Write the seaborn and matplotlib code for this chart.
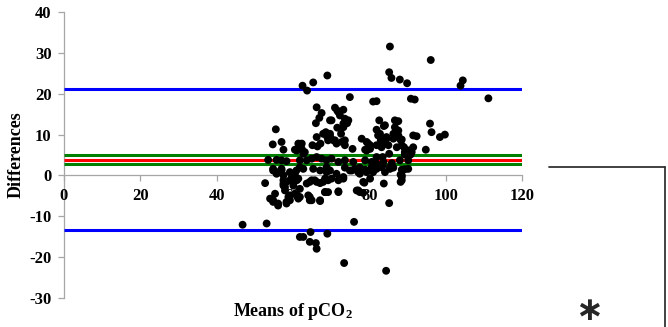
import matplotlib
matplotlib.use("Agg")
import matplotlib.pyplot as plt
from matplotlib.lines import Line2D
import seaborn as sns
import pandas as pd

# ---- data ----
x_means = [85.4, 96.1, 85.2, 85.8, 88.0, 89.9, 104.5, 103.9, 69.0, 65.3, 62.5, 63.7, 74.9, 81.0, 81.9,
           90.9, 91.9, 111.2, 66.2, 71.0, 71.6, 73.2, 67.5, 66.9, 66.0, 69.7, 72.3, 73.6, 74.2, 73.2,
           71.6, 72.6, 55.5, 82.6, 83.8, 81.9, 82.8, 84.5, 83.5, 86.7, 87.6, 87.6, 84.1, 66.2, 68.6,
           69.7, 70.6, 71.4, 78.0, 79.3, 80.2, 78.9, 54.7, 57.0, 57.5, 61.4, 62.3, 60.5, 63.1, 65.1,
           66.4, 67.2, 75.6, 73.6, 81.9, 83.2, 85.0, 87.2, 86.3, 87.6, 95.9, 96.3, 98.5, 99.8, 92.4,
           94.8, 88.2, 89.1, 90.6, 89.3, 90.8, 85.2, 83.5, 83.5, 85.4, 88.5, 88.2, 88.5, 88.2, 83.8,
           85.2, 84.4, 46.8, 53.1, 52.7, 53.5, 54.8, 55.7, 55.3, 54.0, 54.8, 56.1, 58.3, 58.8, 57.5,
           57.9, 59.2, 59.7, 60.5, 60.9, 60.9, 61.8, 61.4, 64.4, 64.0, 67.1, 64.4, 65.7, 67.1, 68.4,
           69.2, 71.9, 61.8, 62.7, 64.6, 64.4, 66.0, 66.2, 69.0, 73.4, 76.0, 77.1, 78.4, 78.4, 80.2,
           72.3, 73.2, 71.4, 69.7, 68.8, 74.9, 76.2, 77.5, 78.9, 80.6, 81.9,
           62.3, 61.0, 62.7, 67.9, 69.0, 55.7, 57.0, 58.3, 61.8, 63.6, 64.9, 66.2, 67.5, 68.8, 54.8, 57.0,
           71.9, 74.5, 73.2, 70.1, 69.7, 71.0, 72.8, 73.6, 68.4, 69.2, 82.3, 83.0, 84.5, 84.1, 86.7,
           86.3, 86.7, 88.5, 91.5, 79.7, 80.2, 79.3, 88.5, 89.3, 90.2, 91.1, 91.5, 70.1, 71.9, 73.6,
           75.8, 78.9, 80.6, 81.9, 83.7, 85.9, 88.0, 90.2, 73.6, 77.5, 81.5, 83.2, 86.3, 90.2,
           55.7, 57.0, 57.5, 59.2, 62.7, 65.3, 67.1, 68.8, 57.5, 58.3, 59.7, 60.1, 61.0, 61.8, 61.4,
           63.6, 64.9, 66.2, 67.9, 69.2, 57.5, 57.9, 59.2, 60.5, 61.8, 64.4, 64.9, 67.1, 54.8, 56.1,
           58.3, 59.2, 61.4,
           68.4, 70.1, 71.9, 73.2, 75.4, 77.1, 78.0, 79.3, 81.0, 81.9, 84.1, 85.4, 88.5, 88.5, 68.4,
           71.9, 76.7, 77.5, 78.7, 89.3]
y_diffs = [31.6, 28.3, 25.3, 23.9, 23.5, 22.6, 23.3, 22.0, 24.5, 22.8, 22.0, 20.8, 19.2, 18.1, 18.2,
           18.8, 18.6, 18.9, 16.7, 16.6, 15.9, 16.1, 15.3, 14.1, 12.8, 13.5, 14.7, 13.9, 12.8, 11.8,
           11.7, 10.2, 11.3, 13.5, 12.1, 11.2, 10.2, 9.4, 8.6, 11.8, 11.0, 13.3, 12.3, 9.4, 10.6,
           9.6, 8.6, 7.8, 9.0, 8.2, 7.4, 6.3, 7.6, 8.2, 6.3, 7.8, 6.5, 6.3, 5.7, 7.4,
           7.1, 7.8, 6.5, 7.4, 7.4, 6.9, 7.4, 6.9, 9.0, 9.8, 12.7, 10.6, 9.4, 10.0, 9.6,
           6.3, 8.7, 6.9, 6.1, 5.1, 5.1, 5.3, 4.5, 2.5, 2.0, 1.4, 0.2, -0.4, -1.6, -2.0,
           -6.8, -23.4, -12.1, -11.8, -1.9, 3.8, 1.2, 0.4, -4.5, -5.7, -6.5, -7.4, -6.5, -5.3, -2.0,
           -2.9, -1.2, -0.4, 0.4, -0.8, 1.2, 2.0, -5.3, -6.1, -4.9, -6.3, -1.6, -1.2, -1.9, -4.1,
           -4.1, -4.1, -15.1, -15.1, -13.9, -16.3, -16.6, -18.0, -14.3, -21.5, -11.4, -3.7, -4.3, -1.6, -0.8,
           -0.8, -0.4, 0.4, 1.2, 2.0, 1.2, 1.6, 0.4, 1.4, 2.0, 2.9,
           7.8, 6.1, 5.3, 10.2, 9.4, 3.8, 3.7, 3.5, 3.7, 3.7, 4.1, 4.5, 4.1, 3.7, 1.6, 1.6,
           15.5, 13.5, 12.7, 13.5, 10.2, 8.6, 8.2, 8.6, 10.2, 8.6, 9.8, 8.6, 9.0, 7.8, 13.5,
           10.2, 9.4, 8.8, 9.8, 7.8, 6.5, 6.1, 7.4, 5.7, 6.1, 5.7, 6.9, 4.1, 3.3, 3.7,
           3.3, 3.7, 3.3, 4.5, 3.3, 3.0, 3.7, 3.7, 1.9, 1.9, 1.6, 2.0, 1.9, 1.6,
           0.8, 1.2, 0.0, 0.8, 1.6, 1.6, 1.2, 0.8, -1.2, -1.6, -0.8, -2.5, -1.2, -3.3, -0.8,
           -2.0, -1.2, -1.6, -1.6, -1.2, -2.5, -3.7, -4.9, -4.5, -5.3, -5.3, -6.1, -6.1, -6.1, -6.9,
           -6.9, -6.1, -5.7,
           -0.8, -0.8, -1.2, -0.8, 1.2, 0.8, 1.2, 0.8, 0.8, 1.6, 0.8, 1.6, 0.0, -1.2, -4.1,
           -3.9, -3.7, -4.1, -1.8, 1.5]

mean_bias = [3.85]
ci_bounds = [4.98, 2.77]
loa_bounds = [21.2, -13.5]
x_ticks = [0, 20, 40, 60, 80, 100, 120]
y_ticks = [-30, -20, -10, 0, 10, 20, 30, 40]

df = pd.DataFrame({"mean": x_means, "diff": y_diffs})

sns.set_theme(style="white")
plt.rcParams["font.family"] = ["Liberation Serif", "DejaVu Serif"]
plt.rcParams["font.weight"] = "bold"
plt.rcParams["mathtext.fontset"] = "custom"
plt.rcParams["mathtext.rm"] = "Liberation Serif:bold"
plt.rcParams["mathtext.it"] = "Liberation Serif:bold"
plt.rcParams["mathtext.bf"] = "Liberation Serif:bold"
plt.rcParams["mathtext.sf"] = "DejaVu Sans:bold"

fig = plt.figure(figsize=(6.68, 3.27), dpi=100)
ax = fig.add_axes([0.0958, 0.0896, 0.6856, 0.8728])

axis_col = "#A6A6A6"
ax.hlines(loa_bounds, x_ticks[0], x_ticks[-1], colors="#0000FF", lw=2.2, zorder=1)
ax.hlines(ci_bounds, x_ticks[0], x_ticks[-1], colors="#008000", lw=2.2, zorder=1)
ax.hlines(mean_bias, x_ticks[0], x_ticks[-1], colors="#FF0000", lw=2.2, zorder=1)

sns.scatterplot(data=df, x="mean", y="diff", color="black", s=32, edgecolor="none",
                linewidth=0, ax=ax, zorder=3, legend=False)

for s in ["top", "right"]:
    ax.spines[s].set_visible(False)
ax.spines["bottom"].set_position(("data", 0))
for s in ["bottom", "left"]:
    ax.spines[s].set_color(axis_col)
    ax.spines[s].set_linewidth(0.9)
    ax.spines[s].set_zorder(0.5)

ax.set_xlim(x_ticks[0], x_ticks[-1])
ax.set_ylim(y_ticks[0], y_ticks[-1])
ax.set_xticks(x_ticks)
ax.set_yticks(y_ticks)
ax.set_xticklabels([str(t) for t in x_ticks], fontweight="bold", fontsize=12)
ax.set_yticklabels([str(t) for t in y_ticks], fontweight="bold", fontsize=12)

ax.tick_params(axis="x", direction="out", length=4, width=0.9, color=axis_col, pad=5,
               labelcolor="black", bottom=True, labelsize=12)
ax.tick_params(axis="y", direction="out", length=4, width=0.9, color=axis_col, pad=5,
               labelcolor="black", left=True, labelsize=12)

ax.set_ylabel("Differences", fontsize=13, fontweight="bold", color="black")
ax.yaxis.set_label_coords(-0.105, 0.5)
ax.yaxis.label.set_verticalalignment("center")
ax.set_xlabel(r"Means of pCO$_2$", fontsize=13, fontweight="bold", color="black")
ax.xaxis.set_label_coords(0.5, -0.05)
ax.xaxis.label.set_verticalalignment("center")

# decoration on the right (part of the original figure frame)
fig.add_artist(Line2D([549 / 668, 665 / 668], [1 - 167 / 327, 1 - 167 / 327],
                      transform=fig.transFigure, color="#333333", lw=1.3))
fig.add_artist(Line2D([665 / 668, 665 / 668], [1 - 167 / 327, 0],
                      transform=fig.transFigure, color="#333333", lw=1.3))
fig.text(588 / 668, 1 - 311.5 / 327, r"$\mathsf{\ast}$", fontsize=24,
         ha="center", va="center")

fig.savefig("out.png", dpi=100)
